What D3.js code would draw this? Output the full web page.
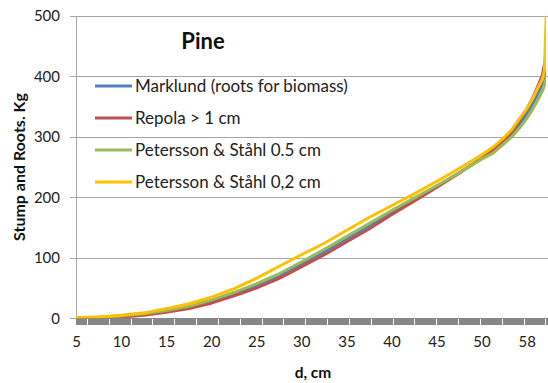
<!DOCTYPE html>
<html>
<head>
<meta charset="utf-8">
<script src="https://cdn.jsdelivr.net/npm/d3@7"></script>
<style>
  html, body { margin: 0; padding: 0; background: #fff; }
  svg { display: block; font-family: Lato, "Open Sans", sans-serif; }
</style>
</head>
<body>
<svg id="chart" width="548" height="383"></svg>
<script>
// Trees ranked by diameter; one category per tree.
const categoryCount = 450;
// Category ranks at which the curves are sampled.
const ranks = [0, 22, 43, 65, 86, 108, 129, 151, 172, 194, 215, 237, 258, 280, 301,
               323, 344, 366, 387, 398, 408, 416, 424, 430, 436, 441, 445, 447, 449];

// Stump and root biomass, kg
const marklund  = [0.3, 1, 3, 6.5, 12, 18, 28, 40, 54, 70, 89, 110, 131, 153, 175,
                   197, 218, 241, 264, 276, 291, 305, 323, 337, 355, 372, 386, 397, 415];
const repola    = [0, 0.5, 2, 5, 10, 16, 25, 37, 50, 66, 85, 105, 126, 148, 171,
                   194, 216, 240, 264, 278, 294, 309, 330, 345, 365, 385, 402, 420, 445];
const ps05      = [0.5, 1.5, 4, 7.5, 13, 20, 30, 43, 57, 74, 93, 114, 135, 157, 178,
                   199, 219, 241, 263, 273, 288, 300, 316, 330, 346, 362, 375, 385, 400];
const ps02      = [1, 2.5, 5, 9, 16, 24, 35, 49, 66, 86, 105, 124, 145, 167, 186,
                   206, 226, 248, 270, 283, 298, 312, 332, 346, 364, 382, 395, 410, 520];

const seriesNames  = ["Marklund (roots for biomass)", "Repola > 1 cm",
                      "Petersson & Ståhl 0.5 cm", "Petersson & Ståhl 0,2 cm"];
const seriesValues = [marklund, repola, ps05, ps02];
const seriesColors = ["#4F81BD", "#C0504D", "#9BBB59", "#FFC000"];

// Diameter labels shown every 43rd tree
const labelRanks = [0, 43, 86, 129, 172, 215, 258, 301, 344, 387, 430];
const labelTexts = ["5", "10", "15", "20", "25", "30", "35", "40", "45", "50", "58"];
const yTicks = [0, 100, 200, 300, 400, 500];

const svg = d3.select("#chart");
const plotLeft = 76, plotRight = 548, plotTop = 15.7, plotBottom = 318.3;

const x = d3.scaleLinear().domain([0, categoryCount - 1])
  .range([plotLeft, plotLeft + (categoryCount - 1) * 1.048]);
const y = d3.scaleLinear().domain([0, 500]).range([plotBottom, plotTop]);

// horizontal gridlines with outer tick marks
const yAxis = d3.axisLeft(y).tickValues(yTicks).tickSize(-(plotRight - plotLeft)).tickSizeOuter(0).tickPadding(16);
const gy = svg.append("g").attr("transform", `translate(${plotLeft},0)`).call(yAxis);
gy.select(".domain").remove();
gy.selectAll(".tick line").attr("x1", -6).attr("stroke", "#A6A6A6").attr("shape-rendering", "crispEdges");
gy.selectAll(".tick text").attr("font-size", 15).attr("fill", "#222").attr("font-family", "Lato, sans-serif");

// vertical axis line
svg.append("line").attr("x1", plotLeft).attr("x2", plotLeft).attr("y1", plotTop).attr("y2", plotBottom)
  .attr("stroke", "#A6A6A6").attr("shape-rendering", "crispEdges");

// category tick marks: one per tree, packed into a band
const gx = svg.append("g").attr("transform", `translate(0,${plotBottom})`)
  .call(d3.axisBottom(x).tickValues(d3.range(categoryCount)).tickSize(7).tickFormat(""));
gx.select(".domain").attr("stroke", "#878787").attr("shape-rendering", "crispEdges");
gx.selectAll(".tick line").attr("stroke", "#878787").attr("shape-rendering", "crispEdges");

// diameter labels
const gl = svg.append("g").attr("transform", `translate(0,${plotBottom})`)
  .call(d3.axisBottom(x).tickValues(labelRanks).tickSize(0).tickPadding(18)
        .tickFormat((d, i) => labelTexts[i]));
gl.select(".domain").remove();
gl.selectAll(".tick text").attr("font-size", 15).attr("fill", "#222").attr("font-family", "Lato, sans-serif");

// curves
svg.append("clipPath").attr("id", "plot")
  .append("rect").attr("x", plotLeft).attr("y", plotTop).attr("width", 546 - plotLeft).attr("height", plotBottom - plotTop);
const line = d3.line().x((d, i) => x(ranks[i])).y(d => y(d));
const gLines = svg.append("g").attr("clip-path", "url(#plot)");
seriesValues.forEach((vals, k) => {
  gLines.append("path").datum(vals).attr("d", line)
    .attr("fill", "none").attr("stroke", seriesColors[k]).attr("stroke-width", 3)
    .attr("stroke-linejoin", "round").attr("stroke-linecap", "round");
});

// title
svg.append("text").attr("x", 203).attr("y", 49).attr("text-anchor", "middle")
  .attr("font-size", 22).attr("font-weight", "bold").attr("fill", "#111").text("Pine");

// legend
const legendY = [86, 118, 150, 182];
const lg = svg.append("g");
seriesNames.forEach((name, k) => {
  lg.append("line").attr("x1", 95).attr("x2", 132).attr("y1", legendY[k]).attr("y2", legendY[k])
    .attr("stroke", seriesColors[k]).attr("stroke-width", 3);
  lg.append("text").attr("x", 135).attr("y", legendY[k]).attr("dy", "0.35em")
    .attr("font-size", 17).attr("fill", "#222").text(name);
});

// axis titles
svg.append("text").attr("x", 313).attr("y", 378).attr("text-anchor", "middle")
  .attr("font-size", 15.5).attr("font-weight", "bold").attr("fill", "#111").text("d, cm");
svg.append("text").attr("transform", "translate(25,167) rotate(-90)").attr("text-anchor", "middle")
  .attr("font-size", 16).attr("font-weight", "bold").attr("fill", "#111").text("Stump and Roots. Kg");
</script>
</body>
</html>
